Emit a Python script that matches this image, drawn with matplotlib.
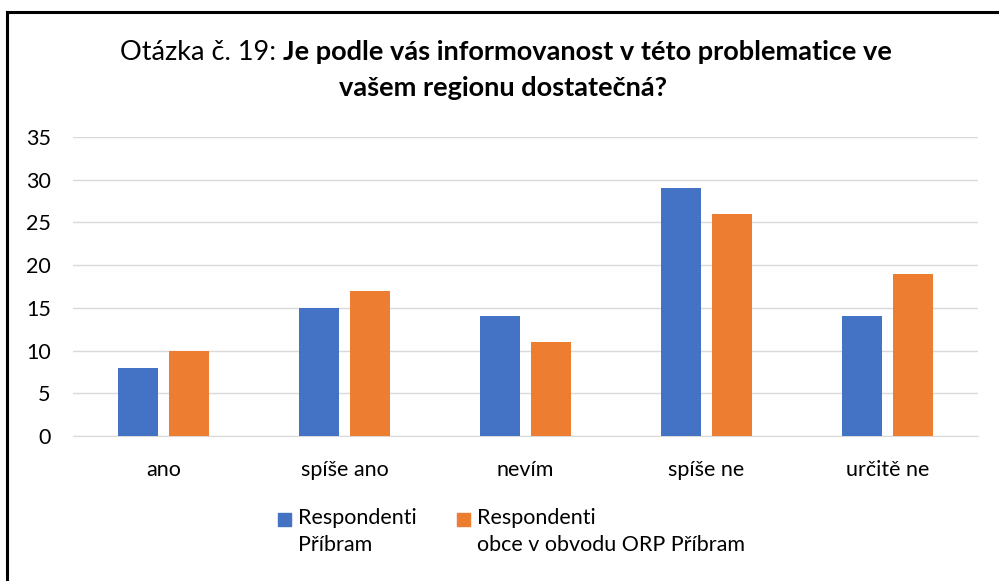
import numpy as np
import matplotlib.pyplot as plt
from matplotlib.lines import Line2D
from matplotlib.patches import Rectangle

categories = ['ano', 'spíše ano', 'nevím', 'spíše ne', 'určitě ne']
pribram = [8, 15, 14, 29, 14]
obce = [10, 17, 11, 26, 19]
labels = ['Respondenti\nPříbram', 'Respondenti\nobce v obvodu ORP Příbram']
colors = ['#4472C4', '#ED7D31']

plt.rcParams['font.family'] = ['Lato', 'DejaVu Sans']

fig = plt.figure(figsize=(9.99, 5.81), dpi=100)
ax = fig.add_axes([73 / 999, 1 - 436 / 581, 905 / 999, (436 - 137) / 581])

x = np.arange(len(categories))
w = 0.22
ax.bar(x - 0.142, pribram, w, color=colors[0], zorder=3)
ax.bar(x + 0.142, obce, w, color=colors[1], zorder=3)

ax.set_xlim(-0.5, 4.5)
ax.set_ylim(0, 35)
ax.set_yticks(range(0, 36, 5))
ax.set_xticks(x)
ax.set_xticklabels(categories)
ax.tick_params(axis='both', length=0, labelsize=15.5, colors='#000000')
ax.tick_params(axis='y', pad=16)
ax.tick_params(axis='x', pad=17)
ax.grid(axis='y', color='#D9D9D9', linewidth=1, zorder=0)
for s in ['top', 'right', 'left']:
    ax.spines[s].set_visible(False)
ax.spines['bottom'].set_color('#D9D9D9')

# title: normal prefix + bold question
fig.canvas.draw()
r = fig.canvas.get_renderer()
y1 = 1 - 52 / 581
t1 = fig.text(0, y1, 'Otázka č. 19: ', fontsize=19.5, va='center')
t2 = fig.text(0, y1, 'Je podle vás informovanost v této problematice ve',
              fontsize=19.5, fontweight='bold', va='center')
w1 = t1.get_window_extent(r).width
w2 = t2.get_window_extent(r).width
x0 = (506 - (w1 + w2) / 2) / 999
t1.set_x(x0)
t2.set_x(x0 + w1 / 999)
fig.text(503 / 999, 1 - 88 / 581, 'vašem regionu dostatečná?', fontsize=19.5,
         fontweight='bold', ha='center', va='center')

# legend drawn by hand: square beside the first line of each label
for sx, tx, c, lab in [(278, 298, colors[0], labels[0]), (457, 477, colors[1], labels[1])]:
    fig.add_artist(Rectangle((sx / 999, 1 - 526 / 581), 13 / 999, 13 / 581,
                             color=c, transform=fig.transFigure))
    fig.text(tx / 999, 1 - 508 / 581, lab, fontsize=15.5, va='top', linespacing=1.45)

# chart border
fig.add_artist(Line2D([7 / 999, 7 / 999], [0, 1 - 12 / 581], color='black', lw=2.2))
fig.add_artist(Line2D([7 / 999, 1], [1 - 12 / 581, 1 - 12 / 581], color='black', lw=2.2))

fig.savefig('out.png', dpi=100)
